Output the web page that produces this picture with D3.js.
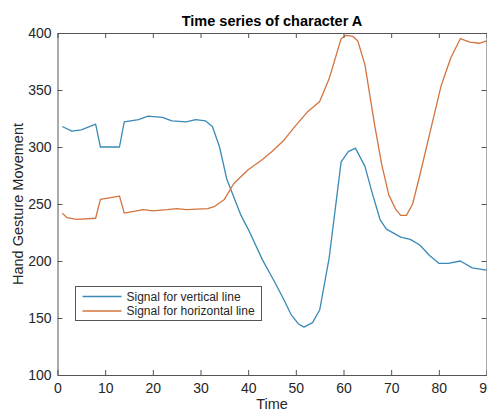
<!DOCTYPE html>
<html>
<head>
<meta charset="utf-8">
<script src="https://cdn.jsdelivr.net/npm/d3@7"></script>
<style>
  body { margin: 0; background: #fff; }
  svg { display: block; font-family: "Liberation Sans", Arial, sans-serif; }
</style>
</head>
<body>
<div id="chart"></div>
<script>
// series
var seriesNames = ["Signal for vertical line", "Signal for horizontal line"];
var seriesColors = ["#3a89b6", "#d3743f"];

var vertTime = [1, 3, 5, 8, 9, 13, 14, 17, 19, 22, 24, 27, 29, 31, 32.5, 34, 35.5, 37, 38.5, 40, 43, 45.5, 47.5, 49, 50.5, 51.7, 53.5, 55, 57, 59.5, 61, 62.5, 64.5, 66, 67.7, 69, 72, 74, 76, 78, 80, 82, 84.5, 87, 90];
var vertValues = [318, 314, 315, 320, 300, 300, 322, 324, 327, 326, 323, 322, 324, 323, 318, 300, 272, 256, 240, 228, 201, 182, 166, 153, 145, 142, 146, 157, 203, 287, 296, 299, 283, 260, 236, 228, 221, 219, 214, 205, 198, 198, 200, 194, 192];

var horizTime = [1, 2, 4, 8, 9, 13, 14, 18, 20, 23, 25, 27, 31.5, 33, 35, 37, 40, 43, 45, 47.5, 50, 52.5, 55, 57, 59.5, 60.5, 62, 63, 64.5, 66.5, 68, 69.5, 71, 72, 73.2, 74.5, 76, 78.5, 80.5, 82.5, 84.5, 86.5, 88.5, 90];
var horizValues = [242, 238, 236.5, 237.5, 254, 257, 242, 245, 244, 245, 246, 245, 246, 248, 254, 268, 280, 289, 296, 306, 319, 331, 340, 360, 395, 398, 397, 393, 372, 320, 285, 258, 245, 240, 240, 250, 275, 319, 354, 378, 395, 392, 391, 393];

var xTicks = [0, 10, 20, 30, 40, 50, 60, 70, 80, 90];
var yTicks = [100, 150, 200, 250, 300, 350, 400];

var W = 487, H = 411;
var padL = 57.5, padR = 486.5, padT = 33, padB = 375;

var svg = d3.select("#chart").append("svg")
    .attr("width", W)
    .attr("height", H);

var x = d3.scaleLinear().domain([0, 90]).range([padL, padR]);
var y = d3.scaleLinear().domain([100, 400]).range([padB, padT]);

var textColor = "#262626", axisColor = "#555";

function styleAxis(g) {
    g.selectAll(".domain").attr("stroke", axisColor).attr("stroke-width", 1);
    g.selectAll(".tick line").attr("stroke", axisColor).attr("stroke-width", 1);
    g.selectAll(".tick text").attr("fill", textColor).style("font-size", "14px");
    g.attr("font-family", null);
}

// data lines
var line = d3.line()
    .x(function(d) { return x(d[0]); })
    .y(function(d) { return y(d[1]); });

var plotData = [d3.zip(vertTime, vertValues), d3.zip(horizTime, horizValues)];

svg.append("g").selectAll("path")
    .data(plotData)
    .enter().append("path")
    .attr("d", line)
    .attr("fill", "none")
    .attr("stroke", function(d, i) { return seriesColors[i]; })
    .attr("stroke-width", 1.3)
    .attr("stroke-linejoin", "round");

// axes, ticks inward like matlab
svg.append("g")
    .attr("transform", "translate(0," + padB + ")")
    .call(d3.axisBottom(x).tickValues(xTicks).tickSizeInner(-5).tickSizeOuter(0).tickPadding(8))
    .call(styleAxis);

svg.append("g")
    .attr("transform", "translate(0," + padT + ")")
    .call(d3.axisTop(x).tickValues(xTicks).tickSizeInner(-5).tickSizeOuter(0).tickFormat(""))
    .call(styleAxis);

svg.append("g")
    .attr("transform", "translate(" + padL + ",0)")
    .call(d3.axisLeft(y).tickValues(yTicks).tickSizeInner(-5).tickSizeOuter(0).tickPadding(6))
    .call(styleAxis);

svg.append("g")
    .attr("transform", "translate(" + padR + ",0)")
    .call(d3.axisRight(y).tickValues(yTicks).tickSizeInner(-5).tickSizeOuter(0).tickFormat(""))
    .call(styleAxis);

// title and labels
svg.append("text")
    .attr("x", (padL + padR) / 2)
    .attr("y", 25.5)
    .attr("text-anchor", "middle")
    .attr("fill", "#000")
    .style("font-size", "14.5px")
    .style("font-weight", "bold")
    .text("Time series of character A");

svg.append("text")
    .attr("x", (padL + padR) / 2)
    .attr("y", 408.5)
    .attr("text-anchor", "middle")
    .attr("fill", textColor)
    .style("font-size", "14.5px")
    .text("Time");

svg.append("text")
    .attr("transform", "translate(23," + (padT + padB) / 2 + ") rotate(-90)")
    .attr("text-anchor", "middle")
    .attr("fill", textColor)
    .style("font-size", "14.5px")
    .text("Hand Gesture Movement");

// legend
var legend = svg.append("g").attr("transform", "translate(75.5,286.5)");
legend.append("rect")
    .attr("width", 186)
    .attr("height", 34)
    .attr("fill", "#fff")
    .attr("stroke", axisColor)
    .attr("stroke-width", 1);

var items = legend.selectAll("g.item")
    .data(seriesNames)
    .enter().append("g")
    .attr("class", "item")
    .attr("transform", function(d, i) { return "translate(0," + (10 + i * 14.5) + ")"; });

items.append("line")
    .attr("x1", 7).attr("x2", 46)
    .attr("stroke", function(d, i) { return seriesColors[i]; })
    .attr("stroke-width", 1.3);

items.append("text")
    .attr("x", 51)
    .attr("y", 4.3)
    .attr("fill", textColor)
    .style("font-size", "12px")
    .text(function(d) { return d; });
</script>
</body>
</html>
